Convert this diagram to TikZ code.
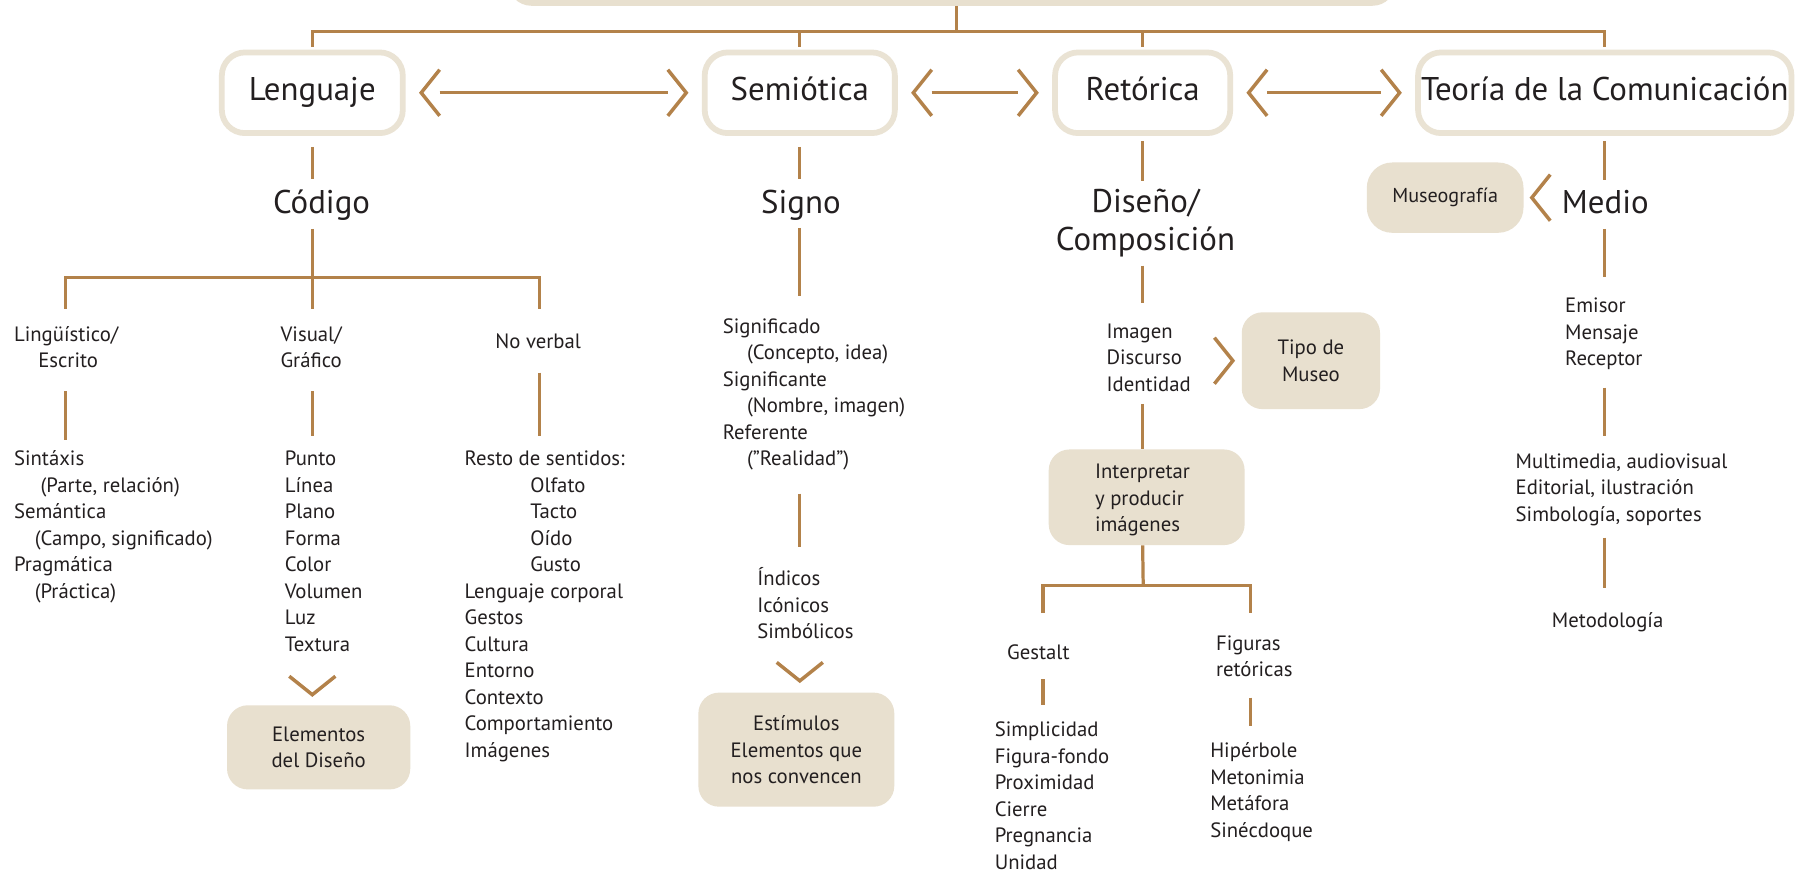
\documentclass[tikz,border=0pt]{standalone}
\usepackage{fontspec}
\setmainfont{PT Sans}
\usetikzlibrary{calc}
\definecolor{bronze}{HTML}{B3824A}
\definecolor{sand}{HTML}{E8E0CF}
\definecolor{sandline}{HTML}{EAE3D4}
\definecolor{ink}{HTML}{231F20}

\begin{document}
\begin{tikzpicture}[x=1pt,y=-1pt,
  every node/.style={text=ink, inner sep=0pt},
  conn/.style={draw=bronze, line width=2.8pt},
  chevline/.style={draw=bronze, line width=3pt},
  mainbox/.style={draw=sandline, line width=5pt, fill=white, rounded corners=20pt,
    font=\fontsize{28.5}{34}\selectfont, text height=20pt, text depth=6pt},
  fillbox/.style={fill=sand, rounded corners=18pt, align=center, font=\fontsize{18}{23}\selectfont},
  head/.style={font=\fontsize{28.5}{34}\selectfont, text height=20pt, text depth=6pt, anchor=base},
  list/.style={font=\fontsize{18}{23}\selectfont, align=left, anchor=north west},
  chev/.pic={\draw[chevline] (-16,-20) -- (0,0) -- (-16,20);}
]
\fill[white] (0,0) rectangle (1568,758);
\clip (0,0) rectangle (1568,758);

% ---------- title band and the four disciplines ----------
\node[fill=sand, rounded corners=20pt, minimum width=770pt, minimum height=70pt] (root) at (826,-30) {};
\node[mainbox, minimum width=157pt, minimum height=70pt] (lenguaje) at (271,80.5) {Lenguaje};
\node[mainbox, minimum width=165pt, minimum height=70pt] (semiotica) at (694,80.5) {Semiótica};
\node[mainbox, minimum width=152pt, minimum height=70pt] (retorica) at (991.5,80.5) {Retórica};
\node[mainbox, minimum width=324pt, minimum height=70pt] (teoria) at (1392.5,80.5) {Teoría de la Comunicación};

% ---------- Lenguaje branch ----------
\node[head] (codigo) at (279,185) {Código};
\node[list] (ling) at (12,280) {\strut Lingüístico/\\\hspace*{21pt}Escrito\strut};
\node[list, align=center, anchor=north] (visual) at (270,280) {\strut Visual/\\Gráfico\strut};
\node[list, anchor=north] (noverbal) at (467,286) {\strut No verbal\strut};
\node[list] (sint) at (12,388) {\strut Sintáxis\\\hspace*{23pt}(Parte, relación)\\Semántica\\
  \hspace*{18pt}(Campo, significado)\\Pragmática\\\hspace*{18pt}(Práctica)\strut};
\node[list] (punto) at (247,388) {\strut Punto\\Línea\\Plano\\Forma\\Color\\Volumen\\Luz\\Textura\strut};
\node[list] (resto) at (403,388) {\strut Resto de sentidos:\\\hspace*{57pt}Olfato\\\hspace*{57pt}Tacto\\
  \hspace*{57pt}Oído\\\hspace*{57pt}Gusto\\Lenguaje corporal\\Gestos\\Cultura\\Entorno\\Contexto\\
  Comportamiento\\Imágenes\strut};
\node[fillbox, minimum width=159pt, minimum height=73pt] (elementos) at (276.5,648.5) {Elementos\\del Diseño};

% ---------- Semiótica branch ----------
\node[head] (signo) at (695,185) {Signo};
\node[list] (signif) at (627,273) {\strut Significado\\\hspace*{21pt}(Concepto, idea)\\Significante\\
  \hspace*{21pt}(Nombre, imagen)\\Referente\\\hspace*{21pt}(”Realidad”)\strut};
\node[list] (indicos) at (657,492) {\strut Índicos\\Icónicos\\Simbólicos\strut};
\node[fillbox, minimum width=170pt, minimum height=99pt] (estimulos) at (691,650.5) {Estímulos\\Elementos que\\nos convencen};

% ---------- Retórica branch ----------
\node[font=\fontsize{28.5}{33}\selectfont, align=center, anchor=north] (diseno) at (994,161.4) {\strut Diseño/\\Composición\strut};
\node[list] (imagen) at (960,277) {\strut Imagen\\Discurso\\Identidad\strut};
\node[fillbox, minimum width=120pt, minimum height=84pt] (tipo) at (1137.5,313) {Tipo de\\Museo};
\node[fill=sand, rounded corners=18pt, minimum width=170pt, minimum height=83pt] (interp) at (995,431.5) {};
\node[list] (interptxt) at (950,399) {\strut Interpretar\\y producir\\imágenes\strut};
\node[list, anchor=north] (gestalt) at (901,556) {\strut Gestalt\strut};
\node[list] (figuras) at (1055,548) {\strut Figuras\\retóricas\strut};
\node[list] (gestlist) at (863,623) {\strut Simplicidad\\Figura-fondo\\Proximidad\\Cierre\\Pregnancia\\Unidad\strut};
\node[list] (figlist) at (1050,641) {\strut Hipérbole\\Metonimia\\Metáfora\\Sinécdoque\strut};

% ---------- Teoría de la Comunicación branch ----------
\node[head] (medio) at (1393,185) {Medio};
\node[fill=sand, rounded corners=22pt, minimum width=136pt, minimum height=61pt,
  font=\fontsize{17.5}{22}\selectfont] (museo) at (1254,171.5) {Museografía};
\node[list] (emisor) at (1358,255) {\strut Emisor\\Mensaje\\Receptor\strut};
\node[list] (multi) at (1315,390) {\strut Multimedia, audiovisual\\Editorial, ilustración\\Simbología, soportes\strut};
\node[list, anchor=north] (metod) at (1395,528) {\strut Metodología\strut};

% ---------- junctions ----------
\coordinate (hub) at (830,27);
\coordinate (codj) at (271,241);
\coordinate (cj1) at (57,241);
\coordinate (cj3) at (468,241);
\coordinate (rj) at (992,508);
\coordinate (rj1) at (905,508);
\coordinate (rj2) at (1085,508);

% ---------- top tree ----------
\draw[conn] (root.south -| hub) -- (hub);
\draw[conn, shorten <=2.5pt, shorten >=2.5pt] (lenguaje.north) -- (lenguaje.north |- hub)
  -- (teoria.north |- hub) -- (teoria.north);
\draw[conn, shorten >=2.5pt] (semiotica.north |- hub) -- (semiotica.north);
\draw[conn, shorten >=2.5pt] (retorica.north |- hub) -- (retorica.north);

% ---------- two-way links between disciplines ----------
\draw[conn, shorten <=29.5pt, shorten >=29.5pt] (lenguaje.east) -- (semiotica.west);
\draw[conn, shorten <=29.5pt, shorten >=29.5pt] (semiotica.east) -- (retorica.west);
\draw[conn, shorten <=29.5pt, shorten >=29.5pt] (retorica.east) -- (teoria.west);
\pic[rotate=180] at ([xshift=13.5pt]lenguaje.east) {chev};
\pic at ([xshift=-13.5pt]semiotica.west) {chev};
\pic[rotate=180] at ([xshift=13.5pt]semiotica.east) {chev};
\pic at ([xshift=-13.5pt]retorica.west) {chev};
\pic[rotate=180] at ([xshift=13.5pt]retorica.east) {chev};
\pic at ([xshift=-13.5pt]teoria.west) {chev};

% ---------- Lenguaje connectors ----------
\draw[conn, shorten <=9.5pt, shorten >=9.5pt] (lenguaje.south) -- (lenguaje.south |- codigo.north);
\draw[conn, shorten <=7.5pt] (lenguaje.south |- codigo.south) -- (codj);
\draw[conn, shorten <=12pt, shorten >=18pt] (cj1 |- ling.north) -- (cj1) -- (cj3) -- (cj3 |- noverbal.north);
\draw[conn, shorten >=12pt] (codj) -- (codj |- visual.north);
\draw[conn, shorten <=13pt, shorten >=6pt] (cj1 |- ling.south) -- (cj1 |- sint.north);
\draw[conn, shorten <=13pt, shorten >=10pt] (codj |- visual.south) -- (codj |- punto.north);
\draw[conn, shorten <=14pt, shorten >=10pt] (cj3 |- noverbal.south) -- (cj3 |- resto.north);
\pic[rotate=-90] at ($(elementos.north -| codj)+(0,-9)$) {chev};

% ---------- Semiótica connectors ----------
\draw[conn, shorten <=9.5pt, shorten >=9.5pt] (semiotica.south) -- (semiotica.south |- signo.north);
\draw[conn, shorten <=6.5pt, shorten >=16pt] (semiotica.south |- signo.south) -- (semiotica.south |- signif.north);
\draw[conn, shorten <=17pt, shorten >=17pt] (semiotica.south |- signif.south) -- (semiotica.south |- indicos.north);
\pic[rotate=-90] at ($(semiotica.south |- estimulos.north)+(0,-10)$) {chev};

% ---------- Retórica connectors ----------
\draw[conn, shorten <=4.5pt, shorten >=4.4pt] (retorica.south) -- (retorica.south |- diseno.north);
\draw[conn, shorten <=2.6pt, shorten >=14pt] (retorica.south |- diseno.south) -- (retorica.south |- imagen.north);
\draw[conn, shorten <=4pt] (retorica.south |- imagen.south) -- (retorica.south |- interp.north);
\pic at ([xshift=-7.5pt]tipo.west) {chev};
\draw[conn] (retorica.south |- interp.south) -- (rj);
\draw[conn, shorten <=24pt, shorten >=16pt] (rj1 |- gestalt.north) -- (rj1) -- (rj2) -- (rj2 |- figuras.north);
\draw[conn, shorten <=10pt, shorten >=11pt] (rj1 |- gestalt.south) -- (rj1 |- gestlist.north);
\draw[conn, shorten <=11pt, shorten >=11pt] (rj2 |- figuras.south) -- (rj2 |- figlist.north);

% ---------- Teoría connectors ----------
\draw[conn, shorten <=4.5pt, shorten >=8.5pt] (teoria.south) -- (teoria.south |- medio.north);
\pic[rotate=180] at ([xshift=7pt]museo.east) {chev};
\draw[conn, shorten <=7.5pt, shorten >=15pt] (teoria.south |- medio.south) -- (teoria.south |- emisor.north);
\draw[conn, shorten <=12pt, shorten >=12pt] (teoria.south |- emisor.south) -- (teoria.south |- multi.north);
\draw[conn, shorten <=7pt, shorten >=18pt] (teoria.south |- multi.south) -- (teoria.south |- metod.north);
\end{tikzpicture}
\end{document}
